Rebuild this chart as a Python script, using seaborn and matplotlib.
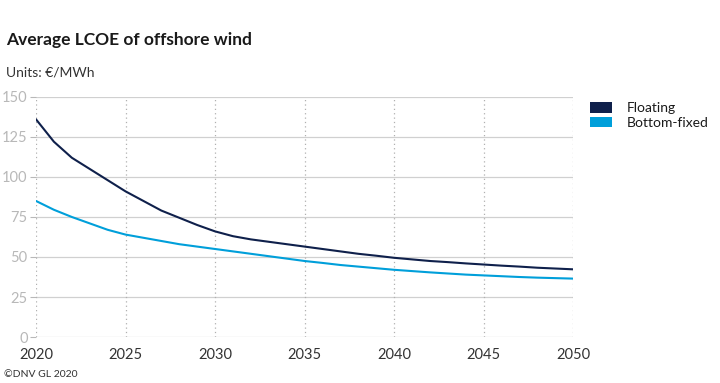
import matplotlib
matplotlib.use('Agg')
import matplotlib.pyplot as plt
import pandas as pd
import seaborn as sns
from matplotlib.patches import Patch

# data
years = list(range(2020, 2051))
floating = [136, 122, 112, 105, 98, 91, 85, 79, 74.5, 70, 66,
            63, 61, 59.5, 58, 56.5, 55, 53.5, 52, 50.8, 49.5,
            48.5, 47.5, 46.8, 46, 45.3, 44.6, 44, 43.3, 42.8, 42.3]
bottom_fixed = [85, 79.5, 75, 71, 67, 64, 62, 60, 58, 56.5, 55,
                53.5, 52, 50.5, 49, 47.5, 46.3, 45, 44, 43, 42,
                41.2, 40.4, 39.7, 39, 38.5, 38, 37.5, 37.1, 36.8, 36.5]
series_names = ['Floating', 'Bottom-fixed']
colors = ['#0F204B', '#009FDA']

df = pd.DataFrame({'year': years, 'Floating': floating, 'Bottom-fixed': bottom_fixed})
df = df.melt(id_vars='year', var_name='type', value_name='lcoe')

sns.set_theme(style='white')
plt.rcParams['font.family'] = ['Lato', 'DejaVu Sans']

fig = plt.figure(figsize=(7.2, 3.83), dpi=100)
ax = fig.add_axes([0.05, 0.12, 0.746, 0.627])

sns.lineplot(data=df, x='year', y='lcoe', hue='type', hue_order=series_names,
             palette=colors, linewidth=1.5, legend=False, ax=ax)

ax.set_xlim(2020, 2050)
ax.set_ylim(0, 150)
ax.set_xticks(range(2020, 2051, 5))
ax.set_yticks(range(0, 151, 25))
ax.set_xlabel('')
ax.set_ylabel('')

# grid: solid horizontal, dotted vertical
for y in range(0, 151, 25):
    ax.axhline(y, color='#d0d0d0', linewidth=0.9, zorder=0)
for x in range(2020, 2051, 5):
    ax.axvline(x, color='#b0b0b0', linewidth=0.9, linestyle=(0, (1, 2.5)), zorder=0)

for s in ax.spines.values():
    s.set_visible(False)

ax.tick_params(axis='y', colors='#b8b8b8', labelsize=10.5, length=4, width=0.8, pad=2,
               left=True)
ax.tick_params(axis='x', colors='#b8b8b8', labelcolor='#333333', labelsize=10.5,
               length=0, pad=8)

fig.text(0.008, 0.882, 'Average LCOE of offshore wind', fontsize=12.5, fontweight='bold',
         color='#1a1a1a')
fig.text(0.008, 0.80, 'Units: €/MWh', fontsize=10, color='#333333')
fig.text(0.005, 0.015, '©DNV GL 2020', fontsize=7.5, color='#333333')

handles = [Patch(facecolor=c, edgecolor='none') for c in colors]
fig.legend(handles, series_names, loc='upper left', bbox_to_anchor=(0.819, 0.734),
           frameon=False, fontsize=10, handlelength=1.6, handleheight=0.8,
           handletextpad=1.1, labelspacing=0.2, borderpad=0, borderaxespad=0,
           labelcolor='#1a1a1a')

fig.savefig('out.png', dpi=100, facecolor='white')
